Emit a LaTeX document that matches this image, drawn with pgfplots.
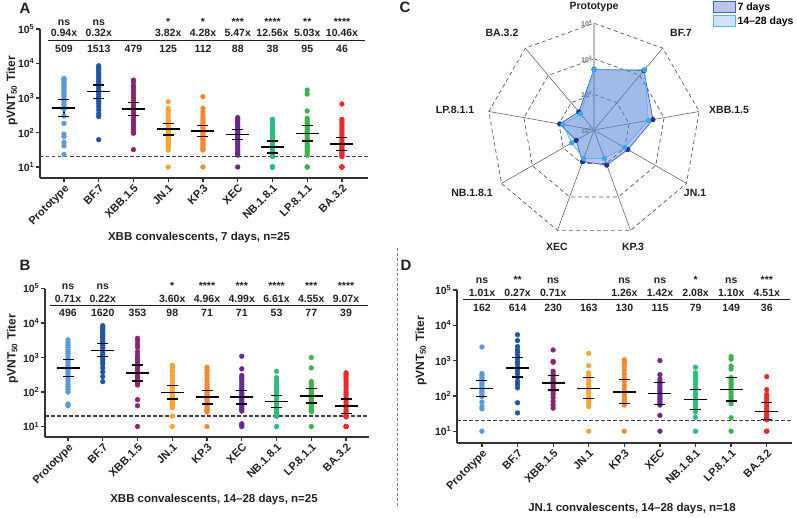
\documentclass[border=0pt]{standalone}
\usepackage{pgfplots}
\pgfplotsset{compat=1.18}
\usepackage{pgfplotstable}
\usepackage{fontspec}
\setmainfont{Liberation Sans}

% variant colours
\definecolor{cat0}{RGB}{91,155,213}
\definecolor{cat1}{RGB}{31,85,165}
\definecolor{cat2}{RGB}{135,40,110}
\definecolor{cat3}{RGB}{248,165,50}
\definecolor{cat4}{RGB}{246,135,45}
\definecolor{cat5}{RGB}{105,40,145}
\definecolor{cat6}{RGB}{40,190,125}
\definecolor{cat7}{RGB}{60,180,75}
\definecolor{cat8}{RGB}{238,40,40}
\definecolor{ink}{RGB}{35,31,32}
\definecolor{axisgray}{RGB}{50,50,50}
\definecolor{d7fill}{RGB}{70,90,200}
\definecolor{d7line}{RGB}{70,95,200}
\definecolor{d7mark}{RGB}{25,55,150}
\definecolor{d14fill}{RGB}{90,165,225}
\definecolor{d14line}{RGB}{85,180,235}
\definecolor{d14mark}{RGB}{55,170,230}

% individual titers, XBB convalescents, 7 days (n=25)
\pgfplotstableread{
P BF XBB JN KP XEC NB LP BA
3700 8600 3300 780 1090 270 240 1700 670
3400 7800 2900 500 500 240 210 1300 240
3100 7000 2300 420 400 210 180 420 210
2800 6300 2000 350 320 185 160 260 180
2500 5600 1700 300 270 165 135 220 155
2200 5000 1400 260 230 150 115 190 130
2000 4400 1200 220 200 135 100 165 110
1800 3900 1000 200 175 120 85 145 95
1600 3400 850 180 155 110 70 125 80
1400 3000 720 160 140 100 60 110 68
1250 2600 620 140 125 92 50 100 58
1100 2300 530 125 110 85 42 90 50
950 2000 460 110 100 78 36 80 44
850 1700 400 100 90 70 32 70 40
750 1500 350 90 80 63 28 62 36
650 1300 300 80 72 56 25 55 32
560 1100 260 72 65 50 23 48 29
480 950 220 65 58 45 21 42 26
300 800 190 58 50 40 20 37 24
184 680 160 50 45 35 10 32 22
90 560 140 45 40 30 10 28 20
76 450 120 40 36 27 10 25 10
52 350 100 35 32 24 10 22 10
41 290 95 31 31 22 10 10 10
23 62 32 10 10 10 10 10 10
}\titersA

% individual titers, XBB convalescents, 14-28 days (n=25)
\pgfplotstableread{
P BF XBB JN KP XEC NB LP BA
3250 8400 3600 600 520 1090 400 1000 360
2700 7500 3000 520 440 470 260 500 320
2300 6700 2400 450 370 300 220 200 280
2000 6000 2000 380 300 270 185 180 240
1700 5300 1500 300 250 240 160 160 200
1500 4700 1200 250 200 200 140 140 170
1300 4200 1000 200 170 170 120 125 145
1100 3700 850 170 145 145 105 112 120
950 3300 720 150 125 125 92 100 100
820 2900 600 130 110 110 80 92 85
700 2600 520 115 98 95 70 84 72
600 2300 450 100 88 85 62 76 60
520 2000 390 90 80 75 55 70 50
450 1800 340 80 72 67 48 64 42
390 1600 300 72 65 60 42 58 36
340 1400 280 65 58 53 37 52 30
290 1200 260 58 52 47 33 47 26
240 1050 230 52 46 42 30 43 23
200 900 200 47 42 38 27 40 20
165 780 180 43 38 34 25 36 20
140 650 170 40 34 31 23 33 20
120 500 160 38 31 28 21 30 19
100 380 60 35 28 12 20 28 10
45 280 40 20 26 11 20 27 10
40 200 10 10 10 10 10 10 10
}\titersB

% individual titers, JN.1 convalescents, 14-28 days (n=18)
\pgfplotstableread{
P BF XBB JN KP XEC NB LP BA
2430 5400 2000 1600 1050 1000 650 1300 350
430 3700 950 720 950 400 450 1100 150
380 2500 900 450 850 300 380 700 110
330 2000 500 380 700 250 320 580 95
290 1700 420 320 550 220 260 330 82
250 1400 360 270 430 190 210 290 70
220 1150 300 230 330 165 170 250 60
190 950 260 200 260 145 140 220 50
170 800 230 170 200 128 115 190 43
150 650 200 145 160 112 95 165 38
135 530 170 125 130 100 80 140 33
120 430 150 110 105 88 68 120 29
108 340 130 95 90 78 58 100 26
95 260 110 80 78 68 50 85 24
67 210 90 68 68 60 42 72 22
50 170 70 58 60 55 35 60 21
43 64 55 50 55 28 25 24 10
10 33 45 10 10 10 10 10 10
}\titersD

% geometric mean titers with 95% CI
\pgfplotstableread{
x gmt lo hi
0 509 290 910
1 1513 980 2380
2 479 307 750
3 125 85 184
4 112 76 158
5 88 62 121
6 38 25.4 57
7 95 57 158
8 46 30 71
}\gmtA
\pgfplotstableread{
x gmt lo hi
0 496 281 893
1 1620 1090 2490
2 353 210 612
3 98 63 151
4 71 45 110
5 71 45 110
6 53 36 79
7 77 48.5 129
8 39 24.3 63
}\gmtB
\pgfplotstableread{
x gmt lo hi
0 162 95 279
1 614 340 1240
2 230 146 386
3 163 85 325
4 130 61.5 292
5 115 57.5 235
6 79 42 152
7 149 72 325
8 36 21.8 64
}\gmtD

% radar: GMT per variant, angle of each variant's spoke in degrees
\pgfplotstableread{
a d7 d14
90 509 496
50 1513 1620
10 479 353
-30 125 98
-70 112 71
-110 88 71
-150 38 53
-190 95 77
-230 46 39
}\radar

\tikzset{
  annot/.style={anchor=base, inner sep=0pt, font=\bfseries\fontsize{10.5}{12}\selectfont, text=ink},
  plabel/.style={font=\bfseries\fontsize{15}{17}\selectfont, text=ink},
  ttl/.style={font=\bfseries\fontsize{11.5}{13}\selectfont, text=ink},
  ylab/.style={rotate=90, font=\bfseries\fontsize{12}{14}\selectfont, text=ink},
  rlab/.style={font=\bfseries\fontsize{10.5}{12}\selectfont, text=ink},
  rtick/.style={anchor=east, inner sep=0.5pt, text=black!55, font=\bfseries\fontsize{7}{8}\selectfont},
  spoke/.style={black!60, line width=0.6pt},
}

% significance, fold change and GMT above one column
\newcommand\colann[4]{%
  \node[annot] at (#1pt,\ysig) {#2};
  \node[annot] at (#1pt,\yfold) {#3};
  \node[annot] at (#1pt,\ynum) {#4};}

% dots, GMT line and 95% CI whisker of every variant in a panel
\newcommand\titerplots[2]{% #1 titer table, #2 GMT table
  \pgfplotsinvokeforeach{0,1,2,3,4,5,6,7,8}{
    \addplot[only marks, mark=*, mark size=2.4pt, color=cat##1] table[x expr=##1, y index=##1] {#1};
  }
  \pgfplotsinvokeforeach{0,1,2,3,4,5,6,7,8}{
    \pgfplotstablegetelem{##1}{lo}\of#2\let\cilo\pgfplotsretval
    \pgfplotstablegetelem{##1}{hi}\of#2\let\cihi\pgfplotsretval
    \addplot[black, line width=1.3pt, mark=none] coordinates {(##1,\cilo) (##1,\cihi)};
  }
  \addplot[black, only marks, mark=-, mark size=5.5pt, mark options={line width=1.3pt}] table[x=x, y=lo] {#2};
  \addplot[black, only marks, mark=-, mark size=5.5pt, mark options={line width=1.3pt}] table[x=x, y=hi] {#2};
  \addplot[black, only marks, mark=-, mark size=11.5pt, mark options={line width=1.4pt}] table[x=x, y=gmt] {#2};
}

\pgfplotsset{
  every axis/.append style={},
}

\begin{document}
\begin{tikzpicture}
\useasboundingbox (0,0) rectangle (797pt,-517pt);

% ---------- A ----------
\begin{axis}[ymode=log, scale only axis, at={(40pt,-178pt)}, anchor=south west,
  width=328pt, height=149pt, xmin=-0.69, xmax=8.75, ymin=4.8, ymax=1e5,
  axis x line*=bottom, axis y line*=left,
  axis line style={-, line width=1.3pt, draw=axisgray},
  tick style={line width=1.2pt, draw=axisgray},
  tick align=outside, major tick length=4pt, yminorticks=false,
  ytick={10,100,1000,10000,100000},
  yticklabels={10\textsuperscript{1},10\textsuperscript{2},10\textsuperscript{3},10\textsuperscript{4},10\textsuperscript{5}},
  xtick={0,1,2,3,4,5,6,7,8},
  xticklabels={Prototype,BF.7,XBB.1.5,JN.1,KP.3,XEC,NB.1.8.1,LP.8.1.1,BA.3.2},
  xticklabel style={rotate=45, anchor=north east, font=\bfseries\fontsize{11}{13}\selectfont, text=ink, inner sep=1pt},
  yticklabel style={font=\bfseries\fontsize{10.5}{12}\selectfont, text=ink, inner sep=1.5pt},
  clip=false]
\addplot[black!75, line width=1.3pt, dash pattern=on 3.5pt off 2.5pt] coordinates {(-0.69,20) (8.75,20)};
\titerplots{\titersA}{\gmtA}
\end{axis}
\def\ysig{-25pt}\def\yfold{-36.7pt}\def\ynum{-52.7pt}
\colann{64}{ns}{0.94x}{509}
\colann{98.75}{ns}{0.32x}{1513}
\colann{133.5}{}{}{479}
\colann{168.25}{*}{3.82x}{125}
\colann{203}{*}{4.28x}{112}
\colann{237.75}{***}{5.47x}{88}
\colann{272.5}{****}{12.56x}{38}
\colann{307.25}{**}{5.03x}{95}
\colann{342}{****}{10.46x}{46}
\draw[ink, line width=1.2pt] (48pt,-40.7pt) -- (365pt,-40.7pt);
\node[plabel] at (25pt,-8pt) {A};
\node[ylab] at (12pt,-91pt) {pVNT\textsubscript{50} Titer};
\node[ttl] at (199pt,-238pt) {XBB convalescents, 7 days, n=25};

% ---------- B ----------
\begin{axis}[ymode=log, scale only axis, at={(45pt,-437pt)}, anchor=south west,
  width=324pt, height=148.5pt, xmin=-0.662, xmax=8.66, ymin=4.97, ymax=1e5,
  axis x line*=bottom, axis y line*=left,
  axis line style={-, line width=1.3pt, draw=axisgray},
  tick style={line width=1.2pt, draw=axisgray},
  tick align=outside, major tick length=4pt, yminorticks=false,
  ytick={10,100,1000,10000,100000},
  yticklabels={10\textsuperscript{1},10\textsuperscript{2},10\textsuperscript{3},10\textsuperscript{4},10\textsuperscript{5}},
  xtick={0,1,2,3,4,5,6,7,8},
  xticklabels={Prototype,BF.7,XBB.1.5,JN.1,KP.3,XEC,NB.1.8.1,LP.8.1.1,BA.3.2},
  xticklabel style={rotate=45, anchor=north east, font=\bfseries\fontsize{11}{13}\selectfont, text=ink, inner sep=1pt},
  yticklabel style={font=\bfseries\fontsize{10.5}{12}\selectfont, text=ink, inner sep=1.5pt},
  clip=false]
\addplot[black!75, line width=1.3pt, dash pattern=on 3.5pt off 2.5pt] coordinates {(-0.662,20) (8.66,20)};
\titerplots{\titersB}{\gmtB}
\end{axis}
\def\ysig{-289.3pt}\def\yfold{-302.7pt}\def\ynum{-316.7pt}
\colann{68}{ns}{0.71x}{496}
\colann{102.75}{ns}{0.22x}{1620}
\colann{137.5}{}{}{353}
\colann{172.25}{*}{3.60x}{98}
\colann{207}{****}{4.96x}{71}
\colann{241.75}{***}{4.99x}{71}
\colann{276.5}{****}{6.61x}{53}
\colann{311.25}{***}{4.55x}{77}
\colann{346}{****}{9.07x}{39}
\draw[ink, line width=1.2pt] (50pt,-305.7pt) -- (368pt,-305.7pt);
\node[plabel] at (25pt,-265pt) {B};
\node[ylab] at (12.5pt,-349pt) {pVNT\textsubscript{50} Titer};
\node[ttl] at (214pt,-500pt) {XBB convalescents, 14--28 days, n=25};

% ---------- D ----------
\begin{axis}[ymode=log, scale only axis, at={(457pt,-443pt)}, anchor=south west,
  width=334.6pt, height=153pt, xmin=-0.70, xmax=8.70, ymin=4.63, ymax=1e5,
  axis x line*=bottom, axis y line*=left,
  axis line style={-, line width=1.3pt, draw=axisgray},
  tick style={line width=1.2pt, draw=axisgray},
  tick align=outside, major tick length=4pt, yminorticks=false,
  ytick={10,100,1000,10000,100000},
  yticklabels={10\textsuperscript{1},10\textsuperscript{2},10\textsuperscript{3},10\textsuperscript{4},10\textsuperscript{5}},
  xtick={0,1,2,3,4,5,6,7,8},
  xticklabels={Prototype,BF.7,XBB.1.5,JN.1,KP.3,XEC,NB.1.8.1,LP.8.1.1,BA.3.2},
  xticklabel style={rotate=45, anchor=north east, font=\bfseries\fontsize{11}{13}\selectfont, text=ink, inner sep=1pt},
  yticklabel style={font=\bfseries\fontsize{10.5}{12}\selectfont, text=ink, inner sep=1.5pt},
  clip=false]
\addplot[black!75, line width=1.3pt, dash pattern=on 3.5pt off 2.5pt] coordinates {(-0.70,20) (8.70,20)};
\titerplots{\titersD}{\gmtD}
\end{axis}
\def\ysig{-283.3pt}\def\yfold{-296.7pt}\def\ynum{-311.7pt}
\colann{482}{ns}{1.01x}{162}
\colann{517.6}{**}{0.27x}{614}
\colann{553.2}{ns}{0.71x}{230}
\colann{588.8}{}{}{163}
\colann{624.4}{ns}{1.26x}{130}
\colann{660}{ns}{1.42x}{115}
\colann{695.6}{*}{2.08x}{79}
\colann{731.2}{ns}{1.10x}{149}
\colann{766.8}{***}{4.51x}{36}
\draw[ink, line width=1.2pt] (463pt,-299.3pt) -- (790pt,-299.3pt);
\node[plabel] at (406pt,-265pt) {D};
\node[ylab] at (421pt,-351pt) {pVNT\textsubscript{50} Titer};
\node[ttl] at (632pt,-509pt) {JN.1 convalescents, 14--28 days, n=18};

% panel separator
\draw[gray, line width=0.8pt, dash pattern=on 3pt off 2pt] (397pt,-248pt) -- (397pt,-508pt);

% ---------- C: radar of GMTs, radius = decades above 10^1 ----------
\begin{axis}[at={(594pt,-130pt)}, anchor=origin, x=35.6pt, y=35.6pt,
  xmin=-3.5, xmax=3.5, ymin=-3.5, ymax=3.5, hide axis, clip=false,
  legend style={at={(0.9775,1.0177)}, anchor=north west, draw=none, fill=none,
    inner sep=0pt, row sep=2pt, font=\bfseries\fontsize{10.5}{12}\selectfont,
    nodes={inner sep=1.5pt}},
  legend cell align=left,
  legend image code/.code={\draw[#1] (0pt,-5.5pt) rectangle (22pt,5.5pt);}]
\addplot[forget plot, black!65, line width=0.7pt, dash pattern=on 4pt off 3pt]
  table[x expr={3*cos(\thisrow{a})}, y expr={3*sin(\thisrow{a})}] {\radar} -- cycle;
\addplot[forget plot, black!65, line width=0.7pt, dash pattern=on 4pt off 3pt]
  table[x expr={2*cos(\thisrow{a})}, y expr={2*sin(\thisrow{a})}] {\radar} -- cycle;
\addplot[forget plot, black!65, line width=0.7pt, dash pattern=on 4pt off 3pt]
  table[x expr={cos(\thisrow{a})}, y expr={sin(\thisrow{a})}] {\radar} -- cycle;
\draw[spoke] (axis cs:0,0) -- (axis cs:1.9284,2.2981);
\draw[spoke] (axis cs:0,0) -- (axis cs:2.9544,0.5209);
\draw[spoke] (axis cs:0,0) -- (axis cs:2.5981,-1.5);
\draw[spoke] (axis cs:0,0) -- (axis cs:1.0261,-2.8191);
\draw[spoke] (axis cs:0,0) -- (axis cs:-1.0261,-2.8191);
\draw[spoke] (axis cs:0,0) -- (axis cs:-2.5981,-1.5);
\draw[spoke] (axis cs:0,0) -- (axis cs:-2.9544,0.5209);
\draw[spoke] (axis cs:0,0) -- (axis cs:-1.9284,2.2981);
\draw[black!25, line width=2.4pt] (axis cs:0,0) -- (axis cs:0,3);
\node[rtick] at (axis cs:-0.03,3) {10\textsuperscript{4}};
\node[rtick] at (axis cs:-0.03,2) {10\textsuperscript{3}};
\node[rtick] at (axis cs:-0.03,1) {10\textsuperscript{2}};
\node[rtick] at (axis cs:-0.03,0) {10\textsuperscript{1}};
\addplot[draw=d7line, line width=0.8pt, fill=d7fill, fill opacity=0.35,
  mark=*, mark size=2.2pt, mark options={fill=d7mark, draw=d7mark, fill opacity=1}]
  table[x expr={(log10(\thisrow{d7})-1)*cos(\thisrow{a})},
        y expr={(log10(\thisrow{d7})-1)*sin(\thisrow{a})}] {\radar} -- cycle;
\addlegendentry{7 days}
\addplot[draw=d14line, line width=0.8pt, fill=d14fill, fill opacity=0.3,
  mark=*, mark size=2.2pt, mark options={fill=d14mark, draw=d14mark, fill opacity=1}]
  table[x expr={(log10(\thisrow{d14})-1)*cos(\thisrow{a})},
        y expr={(log10(\thisrow{d14})-1)*sin(\thisrow{a})}] {\radar} -- cycle;
\addlegendentry{14--28 days}
\end{axis}
\node[plabel] at (405pt,-7pt) {C};
\node[rlab] at (594pt,-7pt) {Prototype};
\node[rlab] at (681pt,-33pt) {BF.7};
\node[rlab] at (729pt,-110pt) {XBB.1.5};
\node[rlab] at (695pt,-193pt) {JN.1};
\node[rlab] at (633pt,-247pt) {KP.3};
\node[rlab] at (557pt,-247pt) {XEC};
\node[rlab] at (472pt,-193pt) {NB.1.8.1};
\node[rlab] at (455pt,-110pt) {LP.8.1.1};
\node[rlab] at (502pt,-33pt) {BA.3.2};
\end{tikzpicture}
\end{document}
